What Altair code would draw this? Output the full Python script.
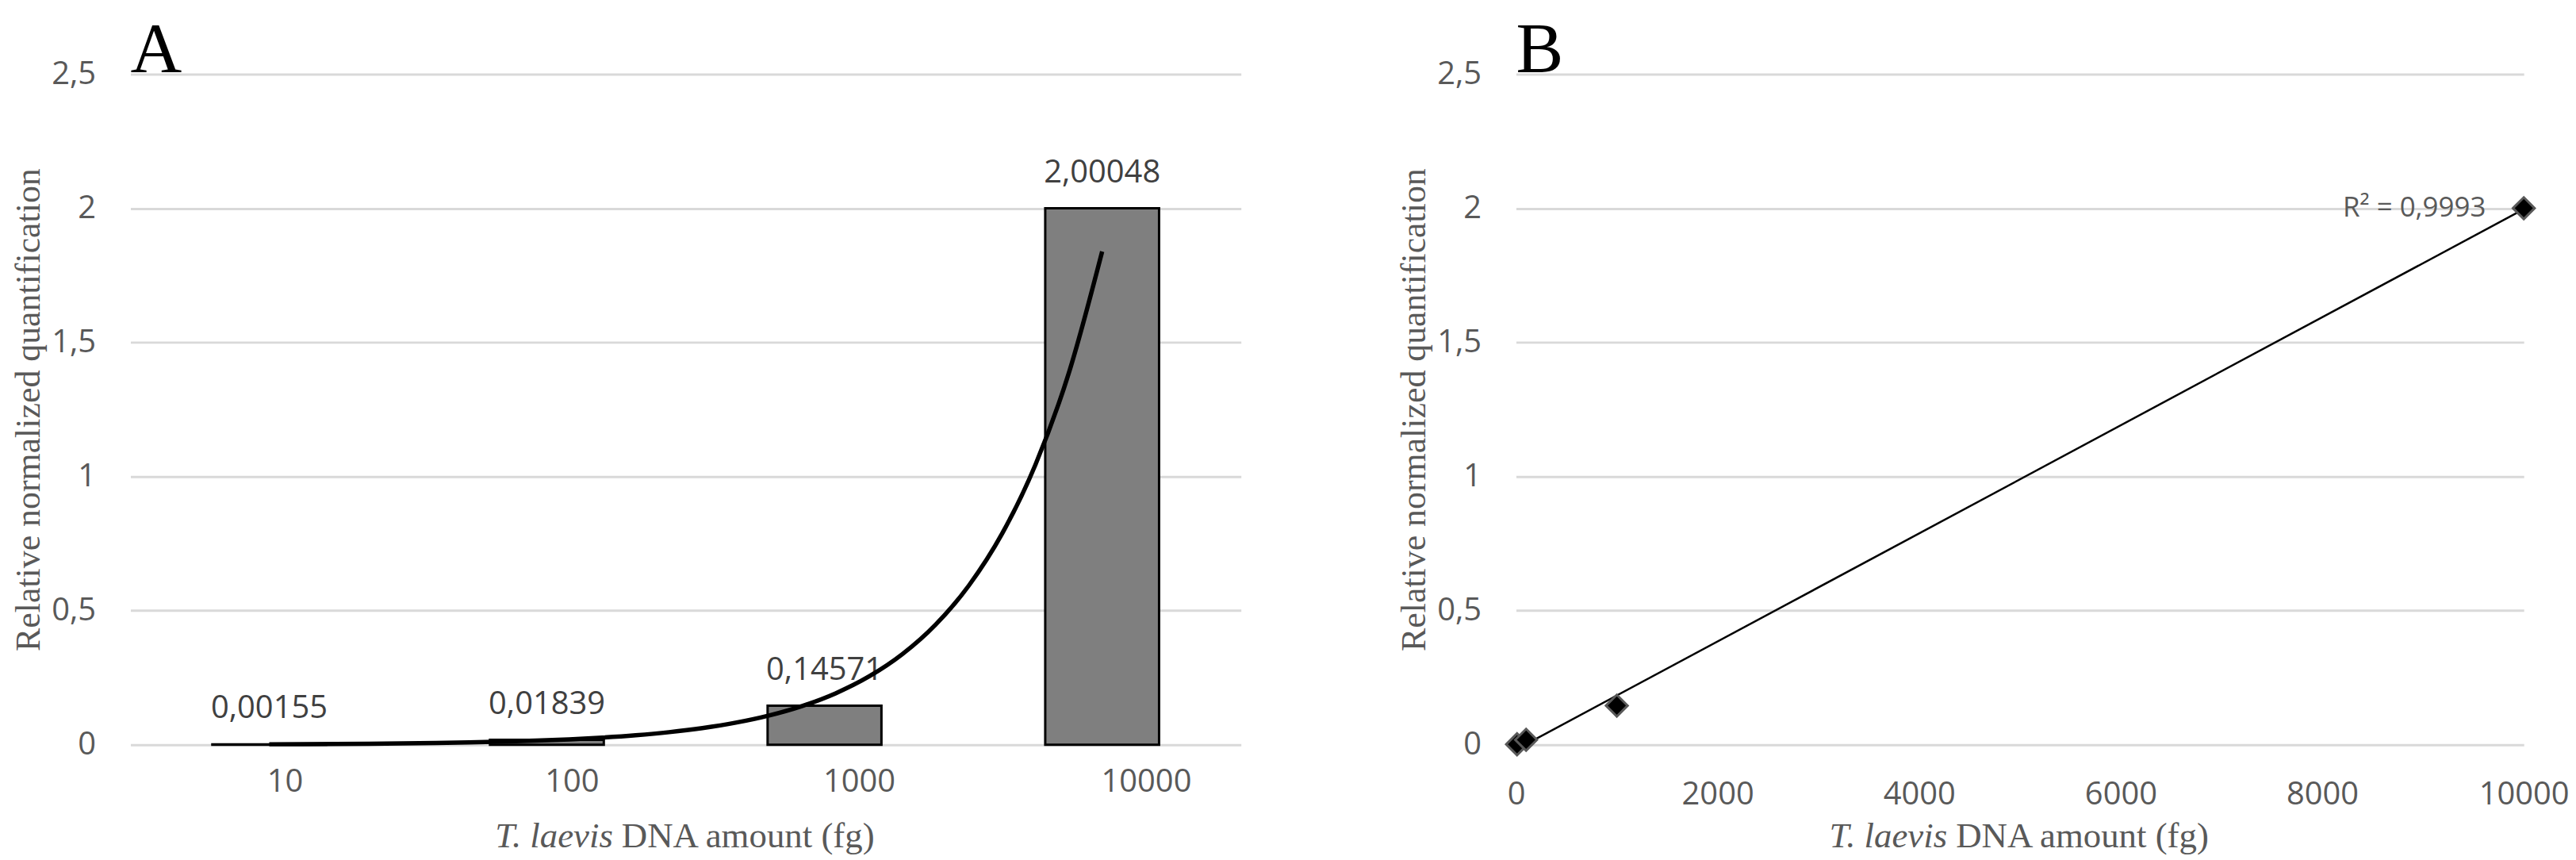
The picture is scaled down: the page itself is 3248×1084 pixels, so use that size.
import altair as alt
import pandas as pd

# ---- data ----
amounts = [10, 100, 1000, 10000]
amount_labels = ["10", "100", "1000", "10000"]
rnq = [0.00155, 0.01839, 0.14571, 2.00048]
y_ticks = [0, 0.5, 1, 1.5, 2, 2.5]
x_ticks_b = [0, 2000, 4000, 6000, 8000, 10000]
r2_text = ["R² = 0,9993"]
panel_letters = ["A", "B"]
x_title_italic = ["T. laevis"]
x_title_rest = ["DNA amount (fg)"]
y_title = "Relative normalized quantification"

df = pd.DataFrame({"amount": amounts, "cat": amount_labels, "value": rnq})

W_A, W_B, H = 1405, 1275, 848
SANS = "Open Sans"
SERIF = "Liberation Serif"
GRAY = "#595959"
SPLIT = 92  # italic/normal split offset left of centre for the x title
SPACE = 11  # width of the space between the italic and normal parts


def y_enc(field="value:Q"):
    return alt.Y(
        field,
        scale=alt.Scale(domain=[0, 2.5], nice=False),
        axis=alt.Axis(values=y_ticks, title=y_title,
                      labelExpr="replace(toString(datum.value), '.', ',')"),
    )


def letter(t):
    return alt.Chart(pd.DataFrame({"t": [t]})).mark_text(
        font=SERIF, fontSize=90, align="left", baseline="alphabetic", color="black"
    ).encode(x=alt.value(0), y=alt.value(-4), text="t:N")


def xtitle(width):
    p1 = alt.Chart(pd.DataFrame({"t": x_title_italic})).mark_text(
        font=SERIF, fontSize=45, fontStyle="italic", align="right",
        baseline="alphabetic", color=GRAY
    ).encode(x=alt.value(width / 2 - SPLIT), y=alt.value(H + 130), text="t:N")
    p2 = alt.Chart(pd.DataFrame({"t": x_title_rest})).mark_text(
        font=SERIF, fontSize=45, align="left",
        baseline="alphabetic", color=GRAY
    ).encode(x=alt.value(width / 2 - SPLIT + SPACE), y=alt.value(H + 130), text="t:N")
    return [p1, p2]


# ---- panel A ----
xa = alt.X(
    "cat:N", sort=amount_labels,
    scale=alt.Scale(paddingInner=0.59, paddingOuter=0.295),
    axis=alt.Axis(title=None, labelAngle=0, labelPadding=27,
                  labelOffset={"expr": "20 + 12*(length(datum.label) - 2)"}),
)
bars = alt.Chart(df).mark_bar(color="#7f7f7f", stroke="black", strokeWidth=3).encode(
    x=xa, y=y_enc()
)
labels = alt.Chart(df).transform_calculate(
    lbl="replace(format(datum.value, '.5f'), '.', ',')"
).mark_text(font=SANS, fontSize=40, color="#404040", baseline="alphabetic", dy=-33).encode(
    x=alt.X("cat:N", sort=amount_labels), y="value:Q", text="lbl:N"
)
curve = alt.Chart(df).transform_window(
    k="row_number()", sort=[alt.SortField("amount")]
).transform_calculate(
    lnv="log(datum.value)"
).transform_regression(
    "k", "lnv", method="poly", order=1
).transform_calculate(
    fit="exp(datum.lnv)"
).mark_line(color="black", strokeWidth=5.5, interpolate="monotone").encode(
    x=alt.X("k:Q", scale=alt.Scale(domain=[0.5, 4.5], nice=False, zero=False), axis=None),
    y=alt.Y("fit:Q"),
)

panelA = alt.layer(
    alt.layer(bars, labels), curve, letter(panel_letters[0]), *xtitle(W_A)
).resolve_scale(x="independent").properties(width=W_A, height=H)

# ---- panel B ----
xb = alt.X(
    "amount:Q", scale=alt.Scale(domain=[0, 10000], nice=False),
    axis=alt.Axis(values=x_ticks_b, format="d", title=None, labelPadding=43,
                  labelFlush=False),
)
trend = alt.Chart(df).transform_regression("amount", "value").mark_line(
    color="black", strokeWidth=2.5
).encode(x=xb, y=y_enc())
pts = alt.Chart(df).mark_point(
    shape="diamond", filled=True, fill="black", stroke="#595959",
    strokeWidth=3, size=750, opacity=1
).encode(x="amount:Q", y="value:Q")
r2 = alt.Chart(pd.DataFrame({"amount": [amounts[-1]], "value": [rnq[-1]], "t": r2_text})).mark_text(
    font=SANS, fontSize=35, color=GRAY, align="right", baseline="middle", dx=-48
).encode(x="amount:Q", y="value:Q", text="t:N")

panelB = alt.layer(
    trend, pts, r2, letter(panel_letters[1]), *xtitle(W_B)
).properties(width=W_B, height=H)

chart = alt.hconcat(panelA, panelB, spacing=197).properties(
    padding={"left": 6, "top": 8, "right": 0, "bottom": 0}, background="white"
).configure_view(stroke=None).configure_axis(
    labelFont=SANS, labelFontSize=40, labelColor=GRAY,
    titleFont=SERIF, titleFontSize=44, titleColor=GRAY, titleFontWeight="normal",
    domain=False, ticks=False, tickSize=0,
    gridColor="#d9d9d9", gridWidth=3,
).configure_axisX(grid=False).configure_axisY(
    grid=True, labelPadding=44, titlePadding=6
)

chart.save("out.html", embed_options={"renderer": "svg", "actions": False})
